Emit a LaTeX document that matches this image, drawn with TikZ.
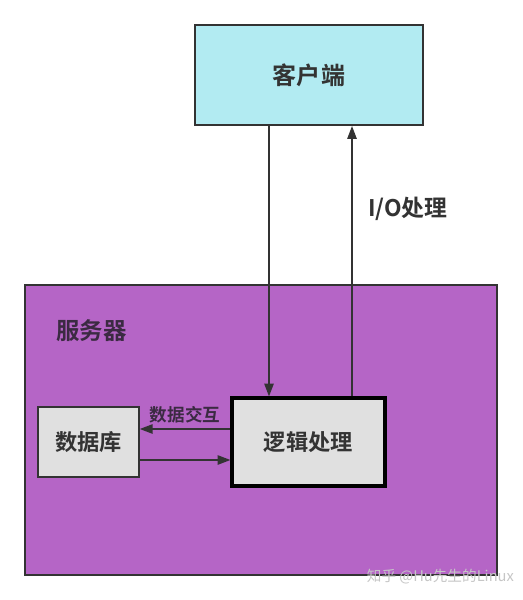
\documentclass[tikz,border=0pt]{standalone}
\usepackage{fontspec}
\setmainfont{Noto Sans CJK SC}[BoldFont={* Bold}]
\usepackage{xcolor}
\usepackage{tikz}
\usetikzlibrary{arrows.meta, calc}
\definecolor{clientcyan}{HTML}{B2EBF2}
\definecolor{serverpurple}{HTML}{B565C6}
\definecolor{boxgray}{HTML}{E0E0E0}
\definecolor{linedark}{HTML}{333333}
\definecolor{labeldark}{HTML}{3B2A42}

\begin{document}
\begin{tikzpicture}[
    x=0.03cm, y=-0.03cm,
    box/.style={rectangle, draw=linedark, text centered, inner sep=0pt, font=\bfseries},
    arrow/.style={draw=linedark, line width=1.3pt, -{Triangle[length=11pt, width=8pt]}}
  ]
    \useasboundingbox[fill=white] (0,0) rectangle (522,600);

    % Client and server frames
    \node[box, fill=clientcyan, line width=1.7pt, minimum width=228*0.03cm, minimum height=100*0.03cm,
          font=\bfseries\fontsize{20.5}{24}\selectfont, text=linedark] (client) at (309,75) {客户端};
    \node[box, fill=serverpurple, line width=1.7pt, minimum width=472*0.03cm, minimum height=290*0.03cm] (server) at (261,430) {};
    \node[font=\bfseries\fontsize{20}{24}\selectfont, text=labeldark, anchor=west] (servertitle) at (52,331) {服务器};

    % Inner boxes
    \node[box, fill=boxgray, line width=1.3pt, minimum width=101*0.03cm, minimum height=70*0.03cm,
          font=\bfseries\fontsize{19}{22}\selectfont, text=linedark] (db) at (88.5,442) {数据库};
    \node[box, fill=boxgray, draw=black, line width=2.6pt, minimum width=153*0.03cm, minimum height=88*0.03cm,
          font=\bfseries\fontsize{19}{22}\selectfont, text=linedark] (logic) at (308.5,442) {逻辑处理};

    \coordinate (dn) at (269,0);
    \coordinate (up) at (352,0);
    \coordinate (ya) at (0,429);
    \coordinate (yb) at (0,460);

    \draw[arrow] (client.south -| dn) -- (logic.north -| dn);
    \draw[arrow] (logic.north -| up) -- (client.south -| up);
    \node[font=\bfseries\fontsize{19.5}{22}\selectfont, text=linedark, anchor=west] (iolabel) at (364,209) {I/O处理};

    \draw[arrow] (logic.west |- ya) -- (db.east |- ya)
        node[midway, above=1pt, font=\bfseries\fontsize{15}{18}\selectfont, text=labeldark] (xlabel) {数据交互};
    \draw[arrow] (db.east |- yb) -- (logic.west |- yb);

    % Watermark
    \node[anchor=east, font=\fontsize{12.5}{15}\selectfont, text=gray!45] (mark) at (518,577) {知乎 @Hu先生的Linux};
  \end{tikzpicture}
\end{document}
